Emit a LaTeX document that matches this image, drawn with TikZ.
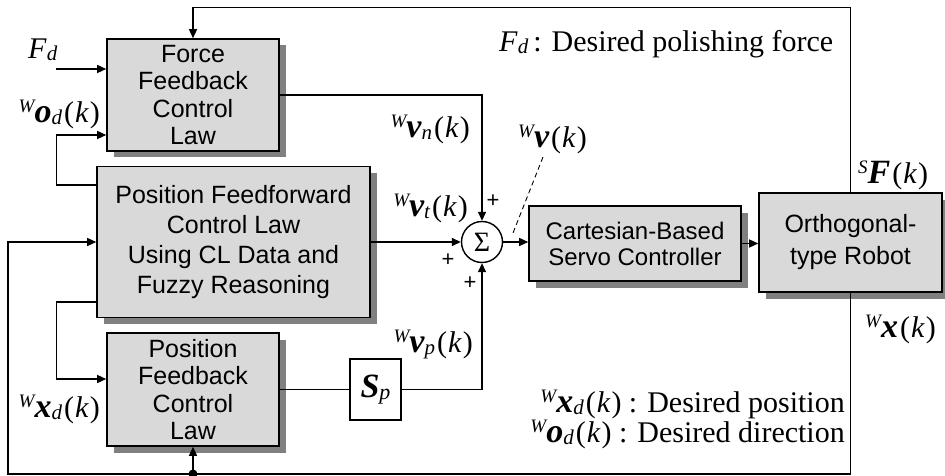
\documentclass[tikz,border=0pt]{standalone}
\usepackage{fontspec}
\setmainfont{Liberation Serif}
\newfontfamily\arialf{Liberation Sans}
\usetikzlibrary{arrows.meta,calc,shadows}
\definecolor{boxfill}{RGB}{217,217,217}
\definecolor{shadowc}{RGB}{128,128,128}
\newcommand\vsym[3]{\raisebox{10pt}{\fontsize{19}{19}\selectfont\itshape #1}{\fontsize{34}{34}\selectfont\bfseries\itshape #2}\raisebox{-2pt}{\fontsize{21}{21}\selectfont\itshape #3}\kern2pt(\kern1pt\textit{k}\kern1pt)}
\newcommand\fdsym{\textit{F}\raisebox{-2pt}{\fontsize{21}{21}\selectfont\itshape d}}
\tikzset{
  blockbox/.style={draw=black, line width=1.6pt, fill=boxfill, align=center,
    inner sep=0pt, font=\arialf\fontsize{25}{27.5}\selectfont,
    drop shadow={shadow xshift=6.5pt, shadow yshift=-6.5pt, fill=shadowc, opacity=1}},
  arr/.style={line width=1.4pt, -{Triangle[length=9pt,width=8pt]}},
  wire/.style={line width=1.4pt},
  lab/.style={font=\fontsize{30}{30}\selectfont, inner sep=0pt},
  plus/.style={font=\arialf\fontsize{22}{22}\selectfont, inner sep=0pt}
}
\begin{document}
\begin{tikzpicture}[x=1pt,y=-1pt]
\useasboundingbox (0,0) rectangle (945,476);

% blocks
\node[blockbox, minimum width=172pt, minimum height=112pt] (ffb) at (193,95) {Force\\Feedback\\Control\\Law};
\node[blockbox, minimum width=273pt, minimum height=151pt, font=\arialf\fontsize{25}{30}\selectfont] (pff) at (233.5,242) {Position Feedforward\\Control Law\\Using CL Data and\\Fuzzy Reasoning};
\node[blockbox, minimum width=172pt, minimum height=113pt] (pfb) at (193,389.5) {Position\\Feedback\\Control\\Law};
\node[blockbox, minimum width=212pt, minimum height=75pt, font=\arialf\fontsize{24}{26}\selectfont] (cart) at (635,243.5) {Cartesian-Based\\Servo Controller};
\node[blockbox, minimum width=183pt, minimum height=99pt, font=\arialf\fontsize{25}{32}\selectfont] (robot) at (850.5,242.5) {Orthogonal-\\type Robot};
\node[draw=black, line width=1.2pt, fill=white, minimum width=51pt, minimum height=61pt, inner sep=0pt, font=\fontsize{30}{30}\selectfont] (sp) at (375.5,389.5) {{\fontsize{34}{34}\selectfont\bfseries\itshape S}\raisebox{-2pt}{\fontsize{22}{22}\selectfont\itshape p}};
\node[circle, draw=black, line width=1.4pt, fill=white, minimum size=41pt, inner sep=0pt, font=\fontsize{28}{28}\selectfont] (sum) at (482,242) {Σ};

% coordinates for free ends
\coordinate (fdin) at (56,69);
\coordinate (bl) at (8,474);
\coordinate (dot) at (193,474);
\coordinate (vtip) at (543,157);
\coordinate (vend) at (513,233);

% connectors
\draw[arr] (robot.north) -- ++(0,-184.5) -| (ffb.north);
\draw[arr] (fdin) -- (fdin -| ffb.west);
\draw[arr] (ffb.east) -| (sum.north);
\draw[arr] (sum -| pff.east) -- (sum.west);
\draw[arr] (sum.east) -- (cart.west |- sum.east);
\draw[arr] (cart.east) -- (robot.west |- cart.east);
\draw[arr] (robot.south) |- (bl) |- (pff.west);
\fill (dot) circle (4.5pt);
\draw[arr] (dot) -- (pfb.south);
\draw[arr] ($(pff.west)+(0,-57)$) -- ++(-40,0) |- ($(ffb.west)+(0,40)$);
\draw[arr] ($(pff.west)+(0,60)$) -- ++(-40,0) |- ($(pfb.west)+(0,-10.5)$);
\draw[wire] (pfb.east) -- (sp.west);
\draw[arr] (sp.east) -| (sum.south);
\draw[line width=0.9pt, dash pattern=on 5pt off 3.5pt] (vtip) -- (vend);

% plus signs
\node[plus] (p1) at (493,201) {+};
\node[plus] (p2) at (448,260) {+};
\node[plus] (p3) at (470,283) {+};

% labels
\node[lab, anchor=base west] (lfd) at (28,59) {\fdsym};
\node[lab, anchor=base east] (lod) at (100,123) {\vsym{W}{o}{d}};
\node[lab, anchor=base east] (lxd) at (100,417) {\vsym{W}{x}{d}};
\node[lab, anchor=base east] (lvn) at (470,138) {\vsym{W}{v}{n}};
\node[lab, anchor=base west] (lv) at (518,148) {\vsym{W}{v}{}};
\node[lab, anchor=base east] (lvt) at (468,216) {\vsym{W}{v}{t}};
\node[lab, anchor=base east] (lvp) at (473,352) {\vsym{W}{v}{p}};
\node[lab, anchor=base west] (lsf) at (858,183) {\vsym{S}{F}{}};
\node[lab, anchor=base west] (lx) at (865,337) {\vsym{W}{x}{}};
\node[lab, anchor=base west] (leg1) at (499,52) {\fdsym\,: Desired polishing force};
\node[lab, anchor=base east] (leg2) at (845,412) {\vsym{W}{x}{d} : Desired position};
\node[lab, anchor=base east] (leg3) at (845,442) {\vsym{W}{o}{d} : Desired direction};
\end{tikzpicture}
\end{document}
